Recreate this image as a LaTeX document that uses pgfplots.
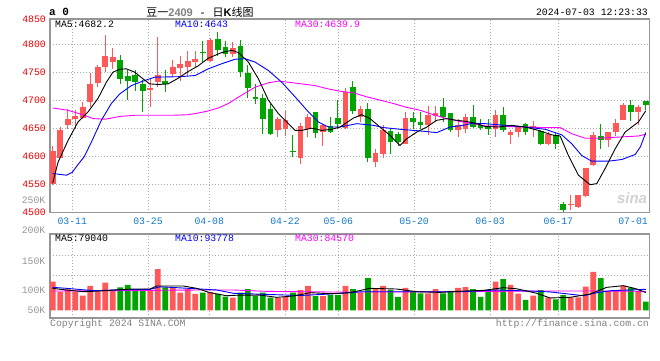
\documentclass[border=0pt]{standalone}
\usepackage{pgfplots}
\usepackage{pgfplotstable}
\pgfplotsset{compat=1.18}
\usepackage{fontspec}
\setmainfont{Liberation Mono}
\newfontfamily\cjk{Noto Sans CJK SC}
\newfontfamily\sansf{Liberation Sans}
\definecolor{cred}{RGB}{255,88,88}
\definecolor{cgreen}{RGB}{0,165,0}
\definecolor{tickred}{RGB}{230,0,0}
\definecolor{dateblue}{RGB}{20,120,200}
\definecolor{gridgray}{RGB}{170,170,170}
\definecolor{bordergray}{RGB}{150,150,150}
\definecolor{volgray}{RGB}{150,150,150}
\definecolor{mag}{RGB}{255,0,255}
\definecolor{mablue}{RGB}{0,0,255}

% n O H L C
\pgfplotstableread{
n O H L C
0 4551 4620 4550 4611
1 4598 4653 4597 4647
2 4656 4685 4649 4668
3 4668 4683 4649 4673
4 4670 4698 4668 4689
5 4698 4749 4689 4730
6 4731 4764 4724 4760
7 4760 4818 4751 4780
8 4769 4794 4757 4778
13 4720 4739 4688 4722
14 4734 4813 4724 4746
16 4748 4772 4742 4760
17 4758 4779 4736 4766
18 4761 4789 4745 4771
19 4770 4789 4760 4775
21 4771 4812 4769 4808
24 4783 4805 4778 4795
30 4647 4671 4635 4668
31 4649 4682 4637 4665
33 4598 4661 4587 4655
34 4650 4677 4635 4671
36 4644 4659 4619 4656
39 4651 4723 4650 4715
41 4671 4690 4662 4686
43 4590 4613 4581 4607
44 4605 4657 4598 4647
47 4622 4679 4622 4670
50 4656 4690 4639 4675
51 4672 4690 4662 4678
54 4647 4667 4636 4656
55 4649 4677 4643 4671
59 4650 4683 4635 4675
61 4638 4647 4623 4644
62 4644 4655 4635 4653
64 4652 4663 4635 4654
66 4623 4644 4621 4640
69 4513 4531 4504 4515
70 4510 4532 4508 4531
71 4529 4580 4528 4580
72 4585 4645 4583 4638
74 4629 4644 4617 4644
75 4645 4668 4637 4661
76 4665 4696 4665 4693
78 4680 4693 4657 4689
}\redtab
\pgfplotstableread{
n O H L C
9 4773 4782 4730 4738
10 4744 4754 4701 4736
11 4746 4754 4718 4734
12 4730 4737 4680 4718
15 4735 4754 4716 4730
20 4787 4807 4769 4785
22 4811 4823 4780 4790
23 4796 4806 4778 4784
25 4798 4808 4742 4752
26 4749 4763 4704 4722
27 4706 4730 4694 4703
28 4704 4712 4640 4668
29 4686 4694 4638 4640
32 4610 4638 4600 4608
35 4679 4679 4634 4642
37 4655 4671 4643 4644
38 4670 4701 4649 4658
40 4724 4736 4676 4681
42 4686 4696 4590 4598
45 4646 4650 4605 4627
46 4640 4645 4619 4627
48 4669 4680 4650 4662
49 4662 4680 4650 4656
52 4689 4704 4662 4671
53 4678 4678 4644 4647
56 4671 4693 4651 4653
57 4656 4668 4647 4652
58 4654 4667 4639 4649
60 4675 4689 4645 4647
63 4659 4660 4639 4645
65 4646 4647 4621 4623
67 4639 4643 4613 4622
68 4516 4519 4502 4505
73 4637 4659 4613 4629
77 4693 4702 4663 4680
79 4699 4699 4683 4692
}\greentab
\pgfplotstableread{
n v
0 127.7
1 83
2 93.7
3 83
4 65
5 108.5
6 83
7 123
8 90.6
13 87.6
14 184
16 102.5
17 78.6
18 95
19 72.8
21 81.7
24 56.3
30 56.3
31 60.7
33 90.6
34 108.5
36 63.8
39 108.5
41 78.6
43 98
44 108.5
47 99.6
50 75.9
51 95
54 99.6
55 104
59 127.7
61 113
62 74
64 65.2
66 56.3
69 57.9
70 57.9
71 105.5
72 172
74 86
75 86
76 108.5
78 86
}\redvol
\pgfplotstableread{
n v
9 102.5
10 113
11 90.6
12 90.6
15 102.5
20 78.6
22 72.8
23 60.7
25 78.6
26 95
27 63.8
28 78.6
29 56.3
32 78.6
35 63.8
37 68
38 68.3
40 95
42 144
45 90.6
46 59.4
48 83
49 75.9
52 75.9
53 86.2
56 95
57 59.4
58 90.6
60 139.7
63 46
65 90.6
67 49.1
68 68.3
73 144
77 101
79 38.4
}\greenvol

\pgfplotsset{
  chartbase/.style={
    scale only axis, anchor=south west,
    width=599.5pt,
    xmin=-0.36, xmax=79.5,
    axis line style={draw=bordergray, line width=1.3pt},
    grid=major,
    major grid style={draw=gridgray, dash pattern=on 1pt off 2pt, line width=0.8pt},
    major tick length=0pt,
    xtick={2.61,12.70,20.86,30.95,38.05,48.14,58.27,67.36},
    tick label style={font=\fontsize{9.8}{10}\selectfont},
    clip=true,
  },
  wick/.style={only marks, mark=*, mark size=0pt, mark options={draw=none, fill=none}, forget plot,
    error bars/.cd, y dir=both, y explicit, error mark=none,
    error bar style={draw=#1, line width=1pt, solid}},
  body/.style={only marks, mark=*, mark size=0pt, mark options={draw=none, fill=none}, forget plot,
    error bars/.cd, y dir=both, y explicit, error mark=none,
    error bar style={draw=#1, line width=5.7pt, solid}},
}
\newcommand{\tf}{\fontsize{9.8}{10}\selectfont}

\begin{document}
\begin{tikzpicture}[x=1pt,y=1pt]
\useasboundingbox (0,0) rectangle (660,360);

% ---------------- price panel ----------------
\begin{axis}[chartbase,
  at={(50pt,147.3pt)}, height=193.7pt,
  ymin=4500, ymax=4845.9,
  ytick={4500,4550,4600,4650,4700,4750,4800},
  yticklabels={4500,4550,4600,4650,4700,4750,4800},
  extra y ticks={4845.5}, extra y tick labels={4850},
  extra y tick style={grid=none},
  yticklabel style={text=tickred, anchor=east, inner sep=0pt, xshift=-4pt},
  xticklabels={03-11,03-25,04-08,04-22,05-06,05-20,06-03,06-17},
  extra x ticks={77.31}, extra x tick labels={07-01},
  extra x tick style={grid=none},
  xticklabel style={text=dateblue, anchor=north, inner sep=0pt, yshift=-5.3pt},
]
% wicks
\addplot[wick=cred] table[x=n, y=C, y error plus expr=\thisrow{H}-\thisrow{C}, y error minus expr=\thisrow{C}-\thisrow{L}] {\redtab};
\addplot[wick=cgreen] table[x=n, y=C, y error plus expr=\thisrow{H}-\thisrow{C}, y error minus expr=\thisrow{C}-\thisrow{L}] {\greentab};
% bodies
\addplot[body=cred] table[x=n, y=O, y error plus expr=\thisrow{C}-\thisrow{O}, y error minus expr=0] {\redtab};
\addplot[body=cgreen] table[x=n, y=C, y error plus expr=\thisrow{O}-\thisrow{C}, y error minus expr=0] {\greentab};

% MA30
\addplot[mag, line width=0.9pt, no marks] coordinates {
(0,4687) (2,4683) (4,4675) (5.4,4668) (7,4667) (9,4672) (11,4674) (16,4674) (18,4675)
(18.96,4677) (20.5,4681) (22.07,4687) (23.4,4695) (25.18,4710) (26.95,4724) (28.73,4732)
(30.06,4735) (31.39,4733) (33.17,4730) (34.94,4727) (36.72,4721) (38.28,4717) (40.05,4714)
(41.83,4707) (43.6,4701) (45.38,4695) (47.16,4688) (48.93,4683) (50.71,4675) (52.49,4668)
(54.26,4663) (56.04,4659) (57.6,4655) (60.26,4654) (62.93,4653) (65.6,4652) (67.59,4652)
(69.15,4641) (70.92,4633) (72.7,4633) (75.36,4635) (78.03,4637) (79,4640)};
% MA10
\addplot[mablue, line width=0.9pt, no marks] coordinates {
(0,4570) (1.82,4567) (2.6,4572) (3.37,4586) (4.2,4600) (5.15,4626) (6.48,4665) (7.81,4695)
(8.92,4712) (10.48,4727) (11.81,4734) (13.59,4742) (17.14,4743) (18.96,4745) (20.74,4757)
(22.51,4766) (24.29,4774) (25.62,4775) (26.95,4769) (28.73,4754) (30.51,4733) (32.28,4707)
(34.06,4680) (35.39,4662) (36.72,4653) (38.28,4653) (40.5,4659) (42.72,4656) (44.05,4652)
(46.27,4649) (48.93,4646) (51.15,4643) (52.93,4653) (54.7,4656) (56.04,4660) (57.6,4659)
(60.26,4656) (62.93,4653) (65.6,4649) (67.82,4639) (69.15,4623) (70.48,4602) (71.81,4592)
(74.03,4592) (75.81,4595) (77.59,4604) (78.3,4618) (79,4643)};
% MA5
\addplot[black, line width=0.9pt, no marks] coordinates {
(0,4553) (0.71,4590) (2.04,4629) (3.37,4662) (4.7,4680) (6.03,4704) (7.15,4733) (8.03,4751)
(8.92,4756) (9.81,4757) (10.92,4751) (12.03,4739) (12.92,4730) (14.03,4729) (15.36,4730)
(16.7,4740) (18.03,4752) (19.36,4762) (20.74,4776) (22.51,4786) (23.85,4790) (24.73,4786)
(26.07,4769) (27.4,4739) (28.73,4701) (30.06,4677) (31.39,4659) (32.28,4647) (33.17,4647)
(34.5,4651) (35.83,4647) (37.16,4649) (38.28,4653) (40.05,4669) (41.16,4675) (42.27,4668)
(43.6,4653) (44.94,4638) (46.27,4620) (47.16,4632) (48.49,4644) (49.82,4653) (51.15,4665)
(52.49,4668) (53.82,4665) (55.15,4663) (56.48,4659) (57.6,4654) (59.38,4653) (61.15,4656)
(62.93,4653) (64.71,4647) (66.48,4639) (67.59,4637) (68.7,4602) (70.03,4567) (71.59,4550)
(72.48,4552) (73.59,4579) (74.92,4614) (76.25,4644) (77.14,4653) (78.03,4662) (79,4682)};
\end{axis}

% ---------------- volume panel ----------------
\begin{axis}[chartbase,
  at={(50pt,42pt)}, height=84pt,
  ymin=-34.4, ymax=340.6,
  ytick={154.5,246.9}, yticklabels={\empty,\empty},
  extra y ticks={1.3,90.6,217}, extra y tick labels={50K,100K,150K},
  extra y tick style={grid=none},
  yticklabel style={text=volgray, anchor=east, inner sep=0pt, xshift=-4.5pt},
  xticklabels={\empty,\empty,\empty,\empty,\empty,\empty,\empty,\empty},
]
\addplot[ybar, bar width=5.7pt, bar shift=0pt, fill=cred, draw=none, forget plot] table[x=n,y=v] {\redvol};
\addplot[ybar, bar width=5.7pt, bar shift=0pt, fill=cgreen, draw=none, forget plot] table[x=n,y=v] {\greenvol};
% vol MA30
\addplot[mag, line width=0.9pt, no marks] coordinates {
(0,86) (6.3,87.6) (19.62,90.6) (24.07,90.6) (28.5,84.5) (36.94,81.7) (45.82,81.7) (54.7,83)
(63.59,86) (68.03,86) (72.47,86) (79,84.6)};
% vol MA10
\addplot[mablue, line width=0.9pt, no marks] coordinates {
(0,102.5) (1.86,98) (5.42,87.6) (8.52,90.6) (12.96,93.7) (14.3,105) (19.18,96) (21.85,90.6)
(24.07,75.9) (28.5,71) (32.95,66) (36.94,72.8) (41.4,83) (50.27,83) (54.7,83) (59.15,90.6)
(63.59,86) (66.26,82) (68.92,72) (70.7,65) (72.47,78.6) (74.5,88) (76.9,90.6) (79,93.8)};
% vol MA5
\addplot[black, line width=0.9pt, no marks] coordinates {
(0,98) (1.86,90.6) (4.08,83) (6.3,86) (8.08,90.6) (10.74,95) (12.96,95) (13.85,108.5)
(17.4,108.5) (19.18,98) (20.96,78.6) (23.18,65) (24.96,68) (27.6,68) (29.84,57.9) (32.06,63.8)
(34.3,78.6) (36.94,74) (39.6,78.6) (42.27,98) (45.82,95) (48.49,83) (51.6,80) (54.7,86)
(57.37,89) (60.04,101) (61.82,96) (64.48,75.9) (66.26,55) (68.92,57.9) (71.59,72.8)
(73.8,102.5) (76.03,110) (77.8,95) (79,79)};
\end{axis}

% ---------------- texts ----------------
\node[anchor=west, inner sep=0pt] at (49,348) {\fontsize{11}{12}\selectfont\bfseries a 0};
\node[inner sep=0pt] at (200,348) {\fontsize{11}{12}\selectfont{\cjk 豆一}{\sansf\bfseries\color{gray}2409} - {\cjk 日}{\sansf\bfseries K}{\cjk 线图}};
\node[anchor=east, inner sep=0pt] at (648,348) {\tf 2024-07-03 12:23:33};
\node[anchor=west, inner sep=0pt, text=black] at (55,336) {\tf MA5:4682.2};
\node[anchor=west, inner sep=0pt, text=mablue] at (175,336) {\tf MA10:4643};
\node[anchor=west, inner sep=0pt, text=mag] at (295,336) {\tf MA30:4639.9};
\node[anchor=west, inner sep=0pt, text=black] at (55,121.7) {\tf MA5:79040};
\node[anchor=west, inner sep=0pt, text=mablue] at (175,121.7) {\tf MA10:93778};
\node[anchor=west, inner sep=0pt, text=mag] at (295,121.7) {\tf MA30:84570};
\node[anchor=east, inner sep=0pt, text=volgray] at (45.5,159.3) {\tf 250K};
\node[anchor=east, inner sep=0pt, text=volgray] at (45.5,129.3) {\tf 200K};
\node[anchor=west, inner sep=0pt, text=gray] at (50,36.3) {\tf Copyright 2024 SINA.COM};
\node[anchor=east, inner sep=0pt, text=gray] at (649,36.3) {\tf http://finance.sina.com.cn};
\node[inner sep=0pt, text=black!18] at (632,162) {\sansf\bfseries\itshape\fontsize{15}{15}\selectfont sina};
\end{tikzpicture}
\end{document}
